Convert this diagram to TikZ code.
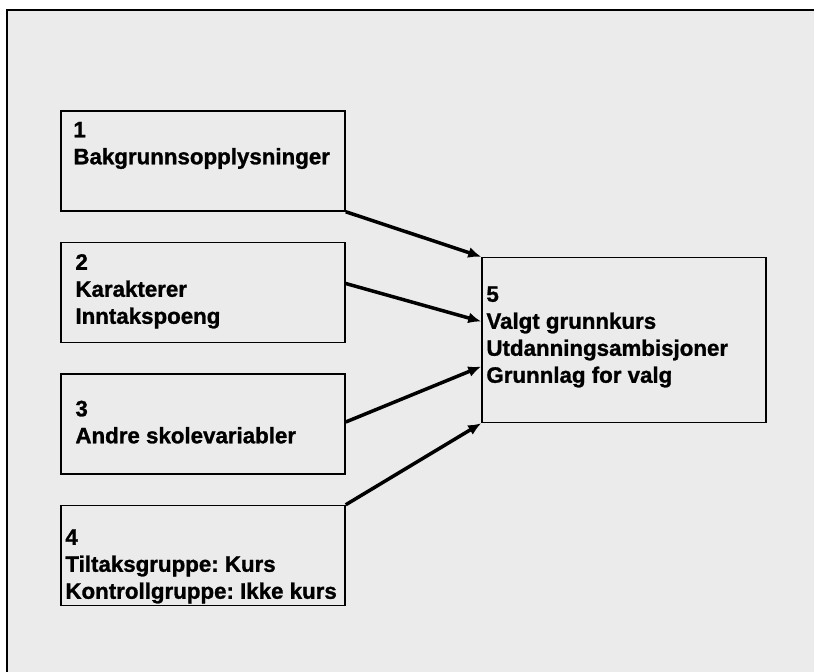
\documentclass[tikz,border=0pt]{standalone}
\usepackage{fontspec}
\setmainfont{Liberation Sans}
\newfontfamily\boxfont{Liberation Sans Bold}[RawFeature={embolden=1.2}]
\usetikzlibrary{arrows.meta}
\frenchspacing
\tikzstyle{varbox} = [rectangle, minimum width=284pt, minimum height=100pt, draw=black, line width=1.5pt]
\tikzstyle{outbox} = [rectangle, minimum width=284pt, minimum height=165pt, draw=black, line width=1.5pt]
\tikzstyle{txt} = [anchor=base west, align=left, inner sep=0pt, font=\boxfont\fontsize{22.3}{27}\selectfont]
\tikzstyle{arrow} = [line width=3.5pt, -{Latex[length=13pt,width=11pt]}]

\begin{document}
\begin{tikzpicture}[node distance=131.5pt]
\useasboundingbox (-203pt,161pt) rectangle (611pt,-511pt);
\fill[black!8] (-196pt,151pt) rectangle (611pt,-511pt);
\draw[line width=1.5pt] (611pt,151pt) -- (-196pt,151pt) -- (-196pt,-511pt);
\node (b1) [varbox] {};
\node (b2) [varbox, below of=b1] {};
\node (b3) [varbox, below of=b2] {};
\node (b4) [varbox, below of=b3] {};
\node (b5) [outbox, right of=b2, xshift=289.5pt, yshift=-47.5pt] {};

% base west sits on the last line of each text
\node (t1) [txt] at ([xshift=13pt,yshift=-54pt]b1.north west) {1\\Bakgrunnsopplysninger};
\node (t2) [txt] at ([xshift=15pt,yshift=-82pt]b2.north west) {2\\Karakterer\\Inntakspoeng};
\node (t3) [txt] at ([xshift=15pt,yshift=-70pt]b3.north west) {3\\Andre skolevariabler};
\node (t4) [txt] at ([xshift=5pt,yshift=-94pt]b4.north west) {4\\Tiltaksgruppe: Kurs\\Kontrollgruppe: Ikke kurs};
\node (t5) [txt] at ([xshift=5pt,yshift=-126pt]b5.north west) {5\\Valgt grunnkurs\\Utdanningsambisjoner\\Grunnlag for valg};

\draw[arrow] (b1.south east) -- (b5.north west);
\draw[arrow] ([yshift=9pt]b2.east) -- ([yshift=18.5pt]b5.west);
\draw[arrow] ([yshift=2pt]b3.east) -- ([yshift=-26.5pt]b5.west);
\draw[arrow] (b4.north east) -- (b5.south west);
\end{tikzpicture}
\end{document}
